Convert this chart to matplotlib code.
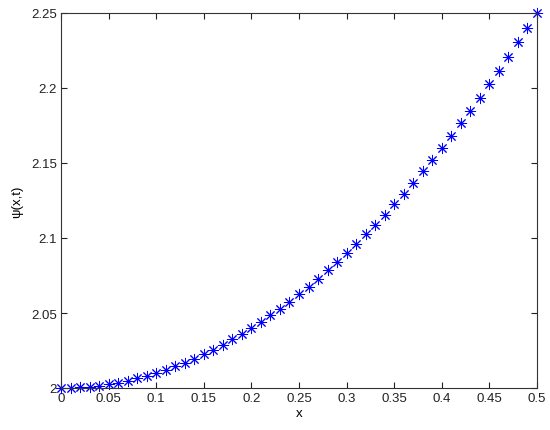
import matplotlib
matplotlib.use("Agg")
import matplotlib.pyplot as plt

plt.rcParams['font.family'] = ['Liberation Sans', 'DejaVu Sans']

x = [0.00, 0.01, 0.02, 0.03, 0.04, 0.05, 0.06, 0.07, 0.08, 0.09,
     0.10, 0.11, 0.12, 0.13, 0.14, 0.15, 0.16, 0.17, 0.18, 0.19,
     0.20, 0.21, 0.22, 0.23, 0.24, 0.25, 0.26, 0.27, 0.28, 0.29,
     0.30, 0.31, 0.32, 0.33, 0.34, 0.35, 0.36, 0.37, 0.38, 0.39,
     0.40, 0.41, 0.42, 0.43, 0.44, 0.45, 0.46, 0.47, 0.48, 0.49, 0.50]
psi = [2.0000, 2.0001, 2.0004, 2.0009, 2.0016, 2.0025, 2.0036, 2.0049, 2.0064, 2.0081,
       2.0100, 2.0121, 2.0144, 2.0169, 2.0196, 2.0225, 2.0256, 2.0289, 2.0324, 2.0361,
       2.0400, 2.0441, 2.0484, 2.0529, 2.0576, 2.0625, 2.0676, 2.0729, 2.0784, 2.0841,
       2.0900, 2.0961, 2.1024, 2.1089, 2.1156, 2.1225, 2.1296, 2.1369, 2.1444, 2.1521,
       2.1600, 2.1681, 2.1764, 2.1849, 2.1936, 2.2025, 2.2116, 2.2209, 2.2304, 2.2401,
       2.2500]
xticks = [0, 0.05, 0.1, 0.15, 0.2, 0.25, 0.3, 0.35, 0.4, 0.45, 0.5]
xticklabels = ['0', '0.05', '0.1', '0.15', '0.2', '0.25', '0.3', '0.35', '0.4', '0.45', '0.5']
yticks = [2, 2.05, 2.1, 2.15, 2.2, 2.25]
yticklabels = ['2', '2.05', '2.1', '2.15', '2.2', '2.25']

fig = plt.figure(figsize=(5.5, 4.31), dpi=100)
ax = fig.add_axes([61/550, 42/431, 476/550, 375/431])
ax.plot(x, psi, linestyle='none', marker=(8, 2, 0), markersize=8,
        markeredgewidth=0.7, color='#0000ff', clip_on=False)
ax.set_xlim(0, 0.5)
ax.set_ylim(2, 2.25)
ax.set_xticks(xticks)
ax.set_xticklabels(xticklabels)
ax.set_yticks(yticks)
ax.set_yticklabels(yticklabels)
ax.tick_params(direction='in', top=True, right=True, length=4, width=0.8,
               labelsize=9.5, colors='#222222', pad=3)
for s in ax.spines.values():
    s.set_linewidth(0.8)
    s.set_color('#333333')
ax.set_xlabel('x', fontsize=9.5, labelpad=2)
ax.set_ylabel('ψ(x,t)', fontsize=9.5, labelpad=6)
fig.savefig('out.png', dpi=100)
